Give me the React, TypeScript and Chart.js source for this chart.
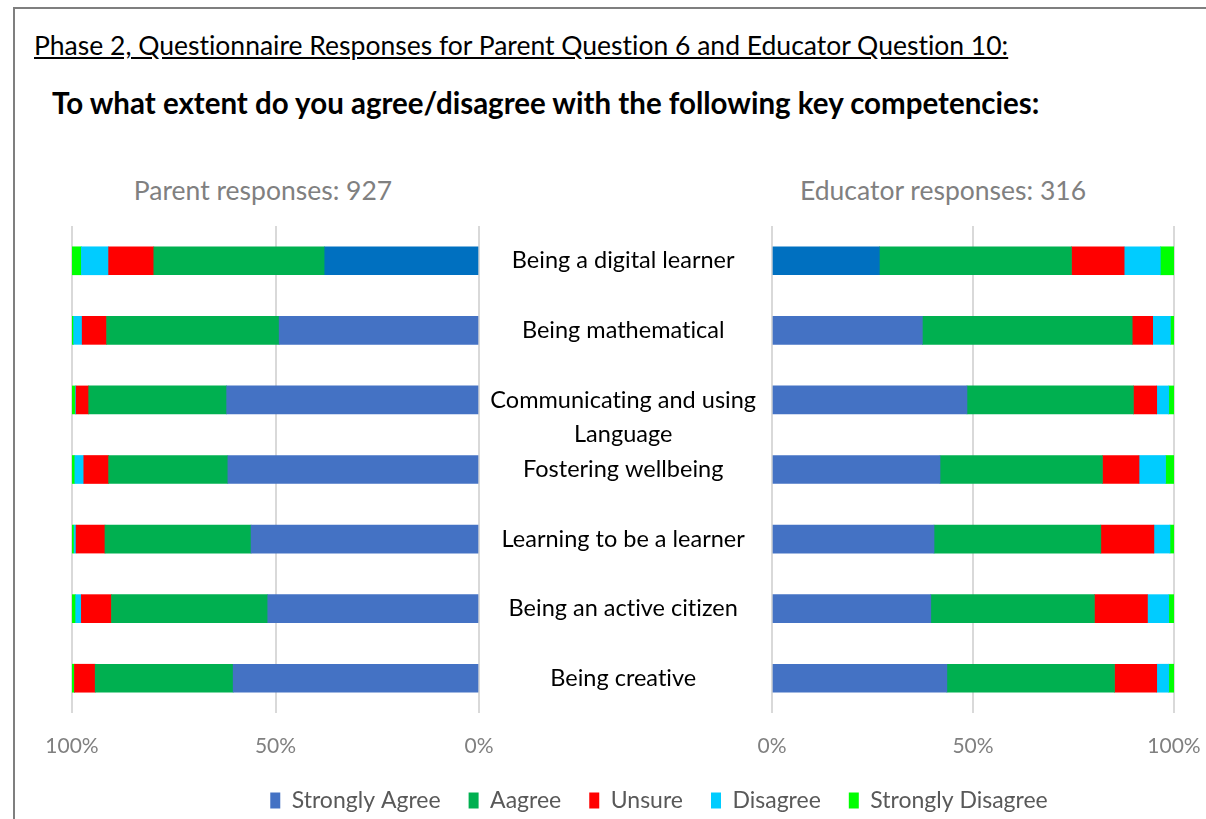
import React, { useEffect, useRef } from "react";
import { Chart, registerables } from "chart.js";

Chart.register(...registerables);

// ---------- data ----------
const categories: string[][] = [
  ["Being a digital learner"],
  ["Being mathematical"],
  ["", "Communicating and using", "Language"],
  ["Fostering wellbeing"],
  ["Learning to be a learner"],
  ["Being an active citizen"],
  ["Being creative"],
];

const seriesNames = ["Strongly Agree", "Aagree", "Unsure", "Disagree", "Strongly Disagree"];
const seriesColors = ["#4472C4", "#00B050", "#FF0000", "#00CCFF", "#00FF00"];
const firstRowStronglyAgreeColor = "#0070C0";

// Parent responses (%), one array per answer, one value per competency
const parentStronglyAgree = [37.9, 49.1, 62.0, 61.7, 56.0, 51.9, 60.4];
const parentAgree = [42.0, 42.4, 33.9, 29.3, 35.9, 38.4, 33.9];
const parentUnsure = [11.1, 6.0, 3.1, 6.1, 7.1, 7.4, 5.1];
const parentDisagree = [6.7, 2.1, 0.2, 2.2, 0.5, 1.4, 0.0];
const parentStronglyDisagree = [2.3, 0.4, 0.8, 0.7, 0.5, 0.9, 0.6];

// Educator responses (%)
const educatorStronglyAgree = [26.7, 37.4, 48.5, 41.8, 40.3, 39.5, 43.5];
const educatorAgree = [47.8, 52.2, 41.4, 40.4, 41.5, 40.7, 41.7];
const educatorUnsure = [13.1, 5.1, 5.8, 9.1, 13.2, 13.2, 10.5];
const educatorDisagree = [9.0, 4.4, 3.0, 6.6, 4.0, 5.3, 3.0];
const educatorStronglyDisagree = [3.4, 0.9, 1.3, 2.1, 1.0, 1.3, 1.3];

const axisMin = 0;
const axisMax = 100;
const axisStep = 50;

const parentSeries = [parentStronglyAgree, parentAgree, parentUnsure, parentDisagree, parentStronglyDisagree];
const educatorSeries = [educatorStronglyAgree, educatorAgree, educatorUnsure, educatorDisagree, educatorStronglyDisagree];

const FONT = "Lato";

function buildDatasets(series: number[][]) {
  return series.map((values, i) => ({
    label: seriesNames[i],
    data: values,
    backgroundColor:
      i === 0
        ? (ctx: any) => (ctx.dataIndex === 0 ? firstRowStronglyAgreeColor : seriesColors[0])
        : seriesColors[i],
    borderWidth: 0,
    barThickness: 28,
    stack: "s",
  }));
}

const tickFont = { family: FONT, size: 21 };

function xScale(reverse: boolean, axisHeight: number) {
  return {
    type: "linear" as const,
    stacked: true,
    reverse,
    min: axisMin,
    max: axisMax,
    grid: { color: "#d9d9d9", lineWidth: 2, drawTicks: false },
    border: { display: false },
    ticks: {
      stepSize: axisStep,
      padding: 21,
      color: "#808080",
      font: tickFont,
      maxRotation: 0,
      callback: (v: any) => v + "%",
    },
    afterFit: (s: any) => {
      s.height = axisHeight;
      s.paddingLeft = 0;
      s.paddingRight = 0;
    },
  };
}

export default function App() {
  const leftRef = useRef<HTMLCanvasElement>(null);
  const rightRef = useRef<HTMLCanvasElement>(null);

  useEffect(() => {
    const labelFontSize = 23.5;
    const mctx = document.createElement("canvas").getContext("2d")!;
    mctx.font = `${labelFontSize}px ${FONT}`;
    let widest = 0;
    categories.forEach((c) => c.forEach((l) => (widest = Math.max(widest, mctx.measureText(l).width))));
    const labelPad = Math.max(0, 772 - 631 - widest / 2);

    const left = new Chart(leftRef.current!, {
      type: "bar",
      data: { labels: categories, datasets: buildDatasets(parentSeries) as any },
      options: {
        indexAxis: "y",
        responsive: false,
        animation: false,
        layout: { padding: { left: 52, right: 31, top: 10, bottom: 0 } },
        plugins: { legend: { display: false }, tooltip: { enabled: false } },
        scales: {
          x: xScale(true, 63) as any,
          y: { stacked: true, display: false },
        },
      },
    });

    const right = new Chart(rightRef.current!, {
      type: "bar",
      data: { labels: categories, datasets: buildDatasets(educatorSeries) as any },
      options: {
        indexAxis: "y",
        responsive: false,
        animation: false,
        layout: { padding: { left: 0, right: 32, top: 10, bottom: 0 } },
        plugins: {
          tooltip: { enabled: false },
          legend: {
            display: true,
            position: "bottom",
            labels: {
              boxWidth: 10,
              boxHeight: 16,
              padding: 28,
              color: "#595959",
              font: { family: FONT, size: 23 },
              generateLabels: (chart: any) =>
                Chart.defaults.plugins.legend.labels.generateLabels(chart).map((item: any, i: number) => ({
                  ...item,
                  fillStyle: seriesColors[i],
                  strokeStyle: seriesColors[i],
                  lineWidth: 0,
                })),
            },
          },
        },
        scales: {
          x: xScale(false, 48) as any,
          y: {
            stacked: true,
            grid: { display: false },
            border: { display: false },
            ticks: {
              autoSkip: false,
              crossAlign: "center",
              padding: labelPad,
              color: "#000000",
              font: { family: FONT, size: labelFontSize, lineHeight: 1.45 },
            },
            afterFit: (s: any) => {
              s.width = 628;
              s.paddingTop = 0;
              s.paddingBottom = 0;
            },
          } as any,
        },
      },
    });

    return () => {
      left.destroy();
      right.destroy();
    };
  }, []);

  const subtitle: React.CSSProperties = {
    position: "absolute",
    width: 400,
    top: 175,
    fontSize: 26.5,
    lineHeight: "30px",
    color: "#808080",
    textAlign: "center",
    whiteSpace: "nowrap",
  };

  return (
    <div
      style={{
        position: "fixed",
        left: 0,
        top: 0,
        width: 1206,
        height: 819,
        background: "#ffffff",
        overflow: "hidden",
        fontFamily: FONT,
        fontVariantLigatures: "none",
      }}
    >
      <div
        style={{
          position: "absolute",
          left: 13,
          top: 7,
          width: 1206,
          height: 830,
          borderTop: "2px solid #7f7f7f",
          borderLeft: "2px solid #7f7f7f",
        }}
      />
      <div
        style={{
          position: "absolute",
          left: 34,
          top: 30,
          fontSize: 26.5,
          lineHeight: "30px",
          color: "#000",
          textDecoration: "underline",
          whiteSpace: "nowrap",
        }}
      >
        Phase 2, Questionnaire Responses for Parent Question 6 and Educator Question 10:
      </div>
      <div
        style={{
          position: "absolute",
          left: 52,
          top: 86,
          fontSize: 29.5,
          lineHeight: "34px",
          fontWeight: 700,
          color: "#000",
          whiteSpace: "nowrap",
        }}
      >
        To what extent do you agree/disagree with the following key competencies:
      </div>
      <div style={{ ...subtitle, left: 63 }}>Parent responses: 927</div>
      <div style={{ ...subtitle, left: 743 }}>Educator responses: 316</div>
      <canvas
        ref={leftRef}
        width={490}
        height={560}
        style={{ position: "absolute", left: 20, top: 216, width: 490, height: 560 }}
      />
      <canvas
        ref={rightRef}
        width={1062}
        height={606}
        style={{ position: "absolute", left: 144, top: 216, width: 1062, height: 606 }}
      />
    </div>
  );
}
